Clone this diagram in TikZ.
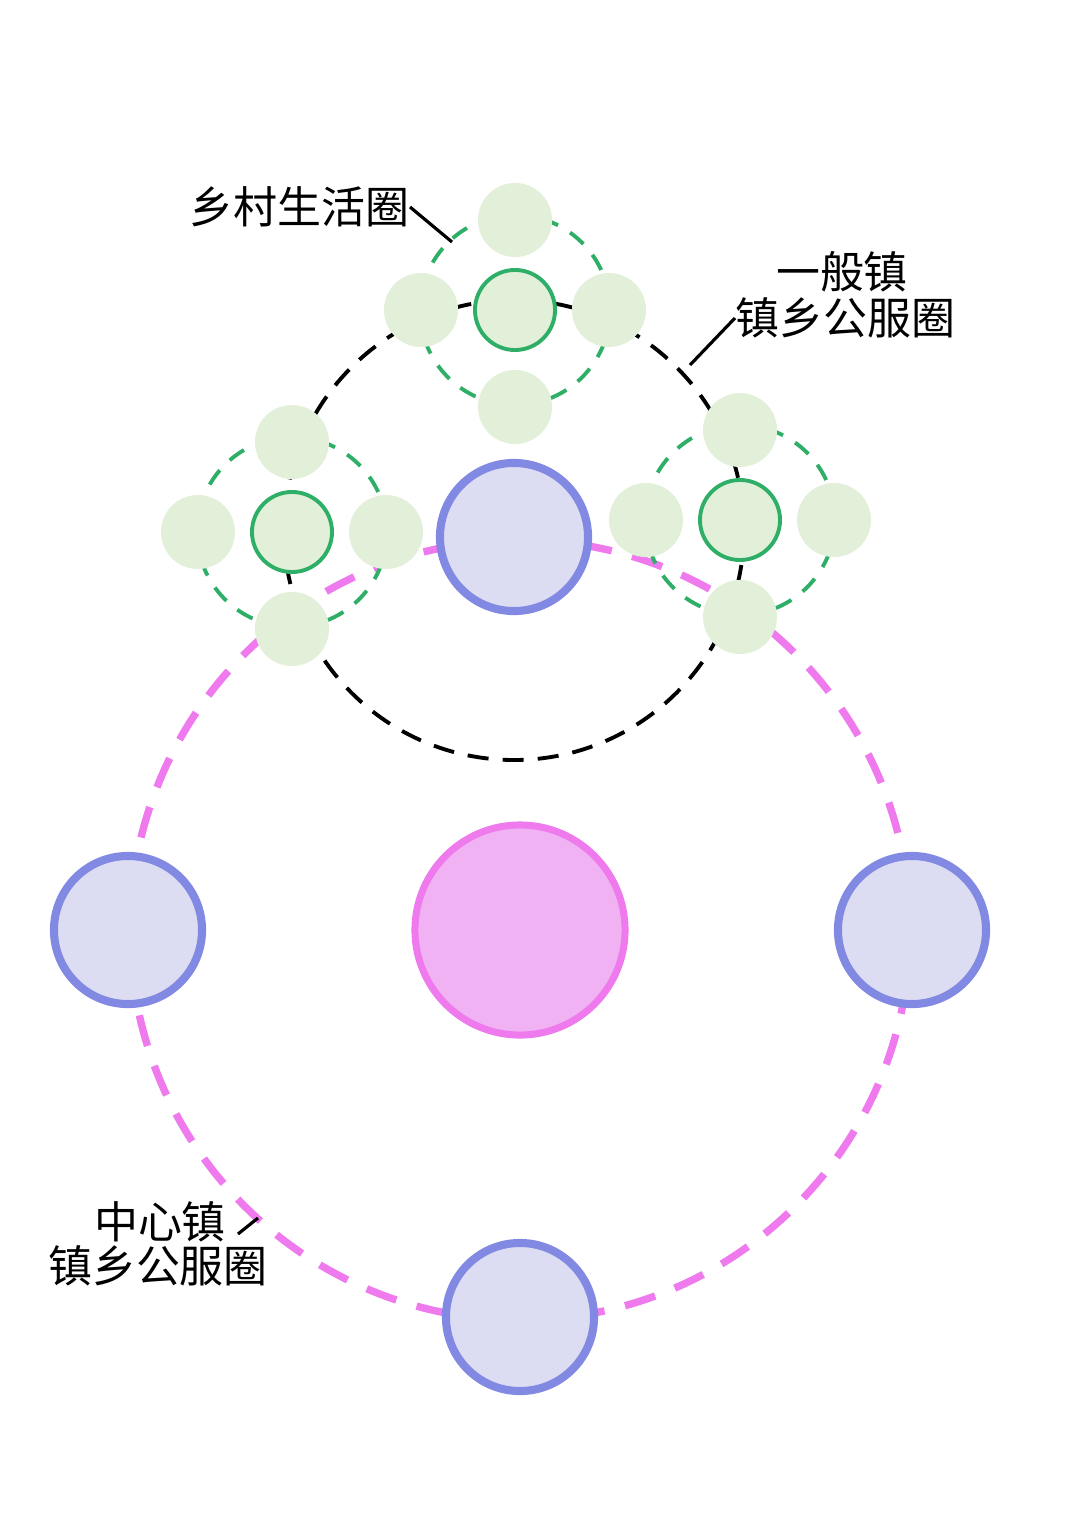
\documentclass[tikz,border=0pt]{standalone}
\usepackage{fontspec}
\newfontfamily\cjk{Noto Sans CJK SC}
\definecolor{pinkline}{HTML}{EE7AEE}
\definecolor{pinkfill}{HTML}{F0B2F2}
\definecolor{blueline}{HTML}{8289E2}
\definecolor{bluefill}{HTML}{DCDDF2}
\definecolor{greenline}{HTML}{2EAE66}
\definecolor{greenfill}{HTML}{E2EFD9}
\tikzset{
  town/.style={circle, draw=blueline, fill=bluefill, line width=2.3pt, minimum size=1.48cm, inner sep=0pt},
  sat/.style={circle, fill=greenfill, minimum size=0.74cm, inner sep=0pt},
  village/.style={circle, draw=greenline, fill=greenfill, line width=1.1pt, minimum size=0.8cm, inner sep=0pt},
  ring/.style={draw=greenline, line width=1.1pt, dash pattern=on 5pt off 4pt},
  lbl/.style={font=\cjk\fontsize{12.5}{14}\selectfont, inner sep=0pt}
}
\begin{document}
\begin{tikzpicture}[x=0.01cm,y=-0.01cm]
\useasboundingbox (0,0) rectangle (1080,1527);
% central town service ring
\draw[pinkline, line width=2.1pt, dash pattern=on 9pt off 6pt] (520,930) circle (390);
% general town service ring
\draw[black, line width=1.1pt, dash pattern=on 6pt off 4pt] (514,530) circle (230);
% centre
\node[circle, draw=pinkline, fill=pinkfill, line width=2pt, minimum size=2.1cm, inner sep=0pt] (core) at (520,930) {};
% towns
\node[town] (tw) at (128,930) {};
\node[town] (te) at (912,930) {};
\node[town] (ts) at (520,1317) {};
\node[town] (tn) at (514,537) {};
% village clusters
\foreach \name/\x/\y in {a/515/310, b/292/532, c/740/520} {
  \draw[ring] (\x,\y) circle (95);
  \node[sat] (\name n) at (\x,\y-90) {};
  \node[sat] (\name s) at (\x,\y+97) {};
  \node[sat] (\name w) at (\x-94,\y) {};
  \node[sat] (\name e) at (\x+94,\y) {};
  \node[village] (\name c) at (\x,\y) {};
}
% labels
\node[lbl, anchor=east] (rural) at (410,207) {乡村生活圈};
\coordinate (ruralend) at (452,242);
\draw[line width=0.9pt] (rural.east) -- (ruralend);
\node[lbl] (gen1) at (842,272) {一般镇};
\node[lbl, anchor=west] (gen2) at (735,318) {镇乡公服圈};
\coordinate (genend) at (690,365);
\draw[line width=0.9pt] (gen2.west) -- (genend);
\node[lbl] (cen1) at (160,1222) {中心镇};
\node[lbl] (cen2) at (158,1266) {镇乡公服圈};
\coordinate (cenend) at (258,1218);
\draw[line width=0.9pt] (238,1234) -- (cenend);
\end{tikzpicture}
\end{document}
